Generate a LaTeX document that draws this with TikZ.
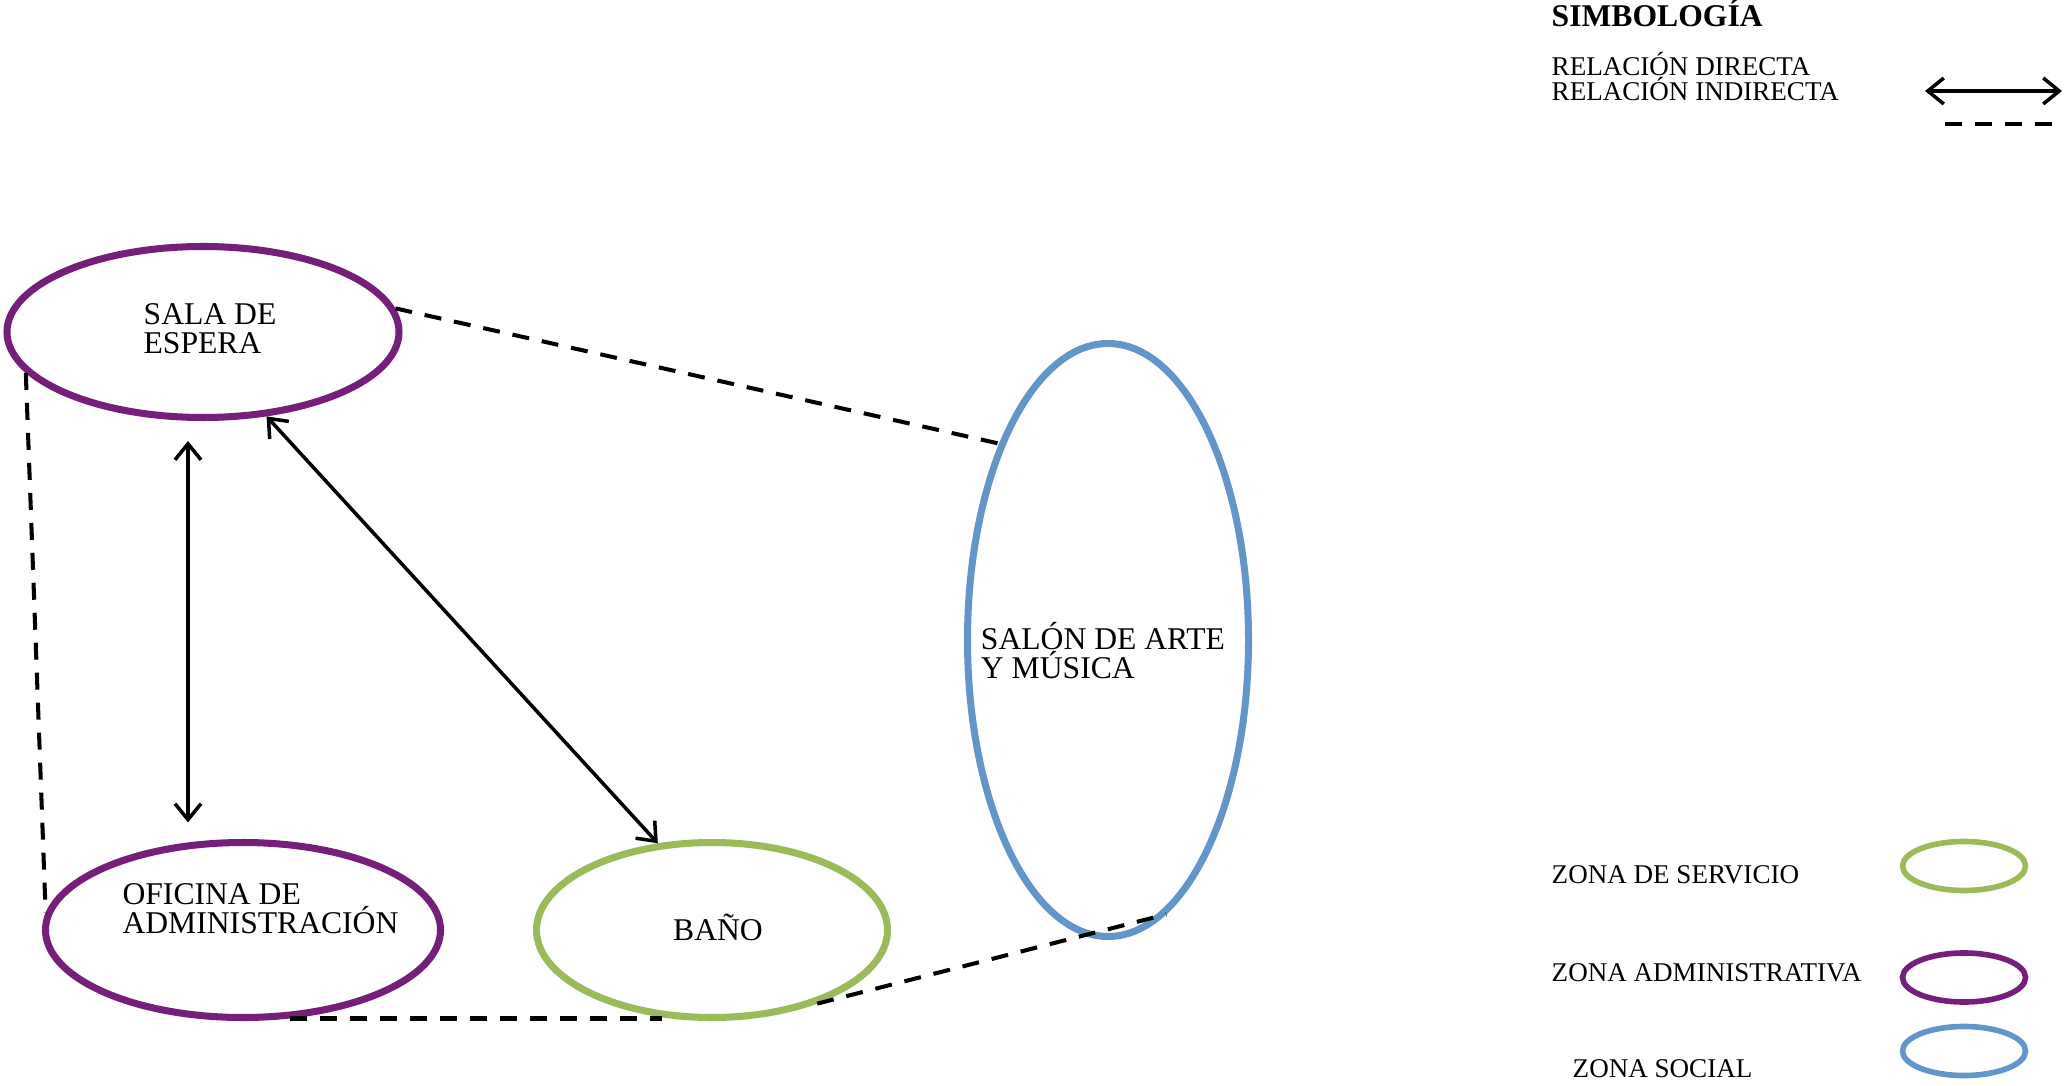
\documentclass[tikz,border=0pt]{standalone}
\usepackage{fontspec}
\setmainfont{Liberation Serif}
\usetikzlibrary{arrows.meta,shapes.geometric}
\definecolor{zonaadm}{RGB}{118, 31, 122}
\definecolor{zonaserv}{RGB}{155, 187, 89}
\definecolor{zonasoc}{RGB}{98, 150, 202}

\begin{document}
\begin{tikzpicture}[
    zona/.style={draw, ellipse, line width=2pt, inner sep=0pt},
    adm/.style={zona, draw=zonaadm},
    serv/.style={zona, draw=zonaserv},
    soc/.style={zona, draw=zonasoc},
    muestra/.style={ellipse, line width=1.6pt, minimum width=1.23cm, minimum height=0.49cm},
    etiq/.style={font=\fontsize{9}{8.3}\selectfont, align=left, inner sep=0pt},
    leyenda/.style={font=\fontsize{7.7}{7}\selectfont, inner sep=0pt, anchor=base west},
    titulo/.style={font=\bfseries\fontsize{9}{9}\selectfont, inner sep=0pt, anchor=base west},
    rel/.style={>={Straight Barb[length=1.6mm, width=2.6mm]}, <->, line width=1pt},
    irel/.style={dash pattern=on 0.17cm off 0.13cm, line width=1.15pt}
]
\useasboundingbox (0,0) rectangle (20.65,10.85);

% zonas
\node[adm, minimum width=3.92cm, minimum height=1.71cm] (sala) at (2.03,7.53) {};
\node[etiq] (salatxt) at (2.10,7.565) {SALA DE\\ESPERA};
\node[adm, minimum width=3.95cm, minimum height=1.75cm] (ofi) at (2.43,1.55) {};
\node[etiq] (ofitxt) at (2.605,1.76) {OFICINA DE\\ADMINISTRACIÓN};
\node[serv, minimum width=3.51cm, minimum height=1.75cm] (bano) at (7.12,1.55) {};
\node[etiq] (banotxt) at (7.18,1.58) {BAÑO};
\node[soc, minimum width=2.81cm, minimum height=5.93cm] (salon) at (11.08,4.45) {};
\node[etiq] (salontxt) at (11.03,4.345) {SALÓN DE ARTE\\Y MÚSICA};

% relaciones
\draw[rel, shorten <=0.2cm, shorten >=0.165cm] ([xshift=-0.15cm]sala.south) -- ([xshift=-0.15cm]sala.south |- ofi.north);
\draw[rel] (sala.-53) -- (bano.122);
\draw[irel] (sala.7) -- (salon.119);
\draw[irel] (sala.193) -- (ofi.175);
\draw[irel] (ofi.-62) -- (ofi.-62 -| bano.-120);
\draw[irel] (bano.-35) -- (salon.-78);

% simbologia
\node[titulo] (simb) at (15.51,10.585) {SIMBOLOGÍA};
\node[leyenda] (rdir) at (15.51,10.09) {RELACIÓN DIRECTA};
\node[leyenda] (rind) at (15.51,9.84) {RELACIÓN INDIRECTA};
\coordinate (rdA) at (19.25,9.94);
\coordinate (rdB) at (20.62,9.94);
\draw[rel] (rdA) -- (rdB);
\coordinate (riA) at (19.45,9.61);
\coordinate (riB) at (20.58,9.61);
\draw[irel] (riA) -- (riB);

\node[leyenda] (tserv) at (15.51,2.02) {ZONA DE SERVICIO};
\node[leyenda] (tadm) at (15.51,1.04) {ZONA ADMINISTRATIVA};
\node[leyenda] (tsoc) at (15.72,0.08) {ZONA SOCIAL};
\node[muestra, draw=zonaserv] (mserv) at (19.64,2.19) {};
\node[muestra, draw=zonaadm] (madm) at (19.64,1.075) {};
\node[muestra, draw=zonasoc] (msoc) at (19.64,0.34) {};
\end{tikzpicture}
\end{document}
